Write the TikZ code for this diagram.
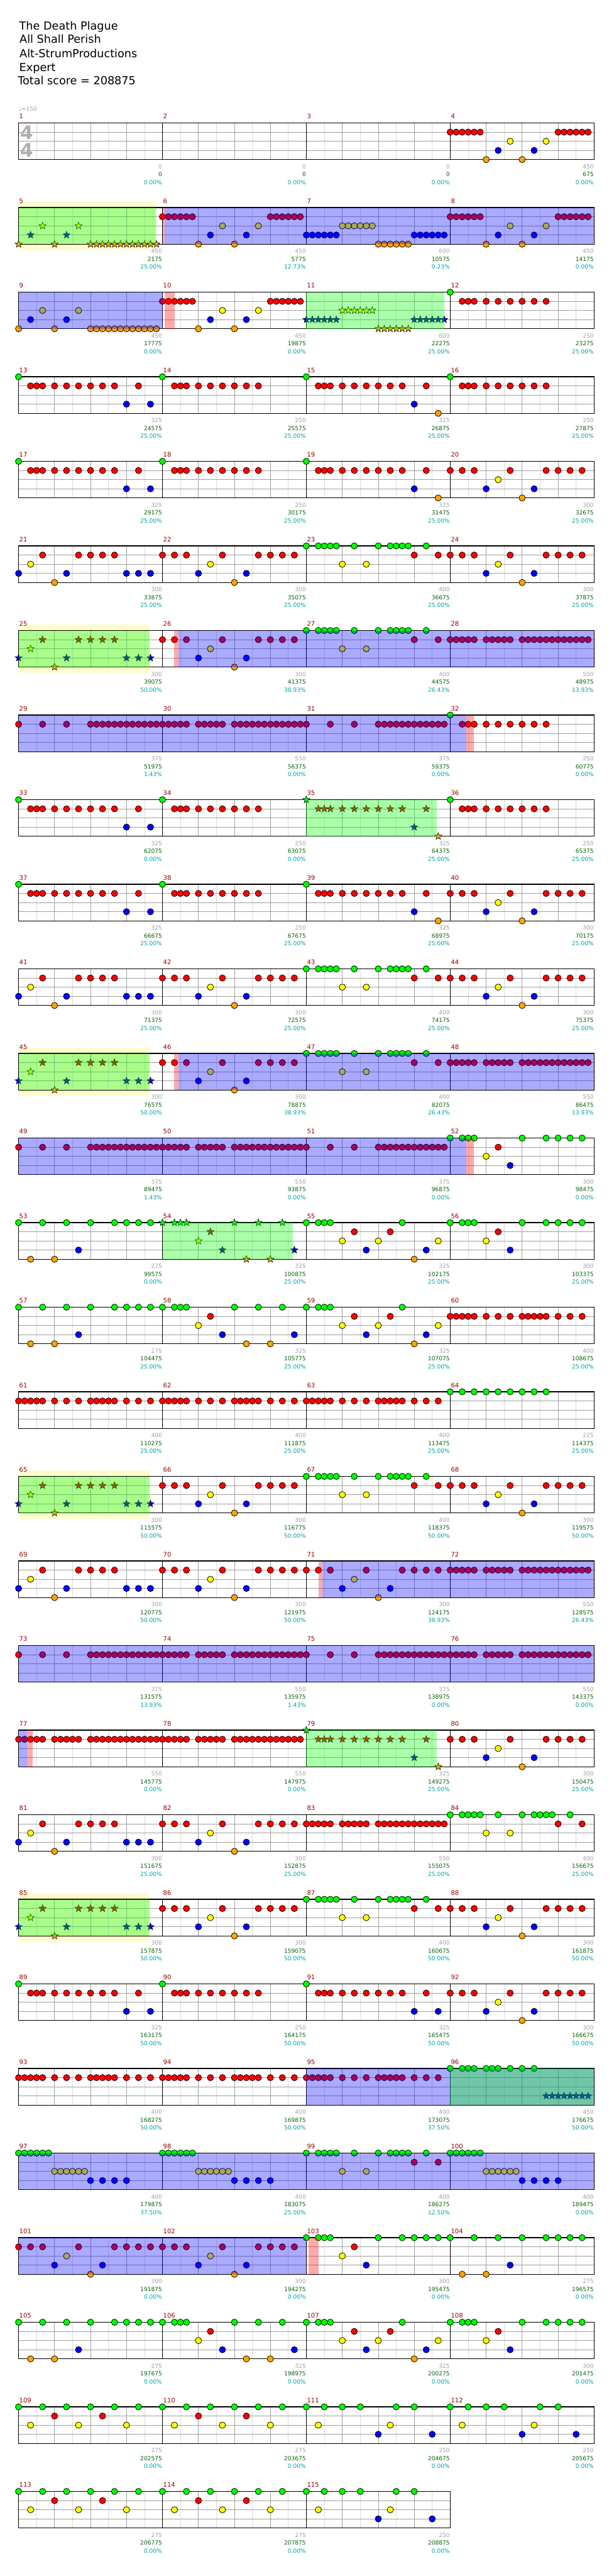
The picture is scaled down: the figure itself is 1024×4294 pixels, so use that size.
\documentclass[tikz,border=0pt]{standalone}
\usepackage{fontspec}
\setmainfont{DejaVu Sans}
\usetikzlibrary{shapes.geometric}

\definecolor{fretgreen}{RGB}{0,255,0}
\definecolor{fretred}{RGB}{255,0,0}
\definecolor{fretyellow}{RGB}{255,255,0}
\definecolor{fretblue}{RGB}{0,0,255}
\definecolor{fretorange}{RGB}{255,165,0}
\definecolor{gridgray}{RGB}{160,160,160}
\definecolor{gridlight}{RGB}{220,220,220}
\definecolor{sigray}{RGB}{175,175,175}
\definecolor{barred}{RGB}{153,0,0}
\definecolor{ptsgray}{RGB}{160,160,160}
\definecolor{totgreen}{RGB}{0,100,0}
\definecolor{pctcyan}{RGB}{0,160,160}

% origin of a bar = top left corner of its staff
\newcommand{\atbar}[3][]{%
  \pgfmathtruncatemacro{\barx}{31+240*mod(#2-1,4)}%
  \pgfmathtruncatemacro{\bary}{205+141*floor((#2-1)/4)}%
  \begin{scope}[shift={(\barx,\bary)},#1]#3\end{scope}}

% gems on the five lanes
\newcommand{\gems}[3]{\foreach \p in {#3}{\node[gemkind, fill=#1] at (\p,#2) {};}}
\newcommand{\gG}[1]{\gems{fretgreen}{0}{#1}}
\newcommand{\gR}[1]{\gems{fretred}{15.25}{#1}}
\newcommand{\gY}[1]{\gems{fretyellow}{30.5}{#1}}
\newcommand{\gB}[1]{\gems{fretblue}{45.75}{#1}}
\newcommand{\gO}[1]{\gems{fretorange}{61}{#1}}

% repeated bar patterns
\newcommand{\patRise}{\gR{0,10,...,50,180,190,...,230}\gO{60,120}\gB{80,140}\gY{100,160}}
\newcommand{\patRun}{\gB{0,10,...,50}\gY{60,70,...,110}\gO{120,130,...,170}\gB{180,190,...,230}}
\newcommand{\patSweep}{\gO{0,60,120,130,...,230}\gB{20,80}\gY{40,100}}
\newcommand{\patB}{\gG{0}\gR{20,30,40,60,80,100,120,140,160}}
\newcommand{\patA}{\patB\gR{200}\gB{180,220}}
\newcommand{\patC}{\patB\gR{200}\gB{180}\gO{220}}
\newcommand{\patD}{\gR{0,20,40,100,160,180,200,220}\gB{60,140}\gY{80}\gO{120}}
\newcommand{\patE}{\gB{0,80,180,200,220}\gY{20}\gR{40,100,120,140,160}\gO{60}}
\newcommand{\patG}{\gG{0,20,30,40,50,80,120,140,150,160,170,200}\gY{60,100}\gR{180,220}}
\newcommand{\patH}{\gR{0,10,...,40,60,70,...,100,120,130,...,230}}
\newcommand{\patK}{\gR{0,40,80,120,130,...,230}}
\newcommand{\patM}{\gG{0,20,30,40,120,160,180,200,220}\gY{60}\gR{80}\gB{100}}
\newcommand{\patN}{\gG{0,40,80,120,160,180,200,220}\gO{20,60}\gB{100}}
\newcommand{\patP}{\gG{0,20,30,40,120,160,200}\gY{60}\gR{80}\gB{100,220}\gO{140,180}}
\newcommand{\patQ}{\gG{0,20,30,40,160}\gY{60,120,220}\gR{80,140}\gB{100,200}\gO{180}}
\newcommand{\patR}{\gR{0,10,...,40,60,80,100,120,130,...,160,180,200,220}}
\newcommand{\patS}{\gG{0,20,...,160}}
\newcommand{\patT}{\gG{0,40,80,120,160,200}\gY{20,100,180}\gR{60,140}}
\newcommand{\patU}{\gG{0,30,60,90,150,180}\gB{120,210}\gY{20,140}}
\newcommand{\patW}{\gG{0,10,...,50}\gY{60,70,...,110}\gB{120,140,160,180}}

\tikzset{
  gem/.style={circle, draw=black, line width=0.8pt, minimum size=10.5pt, inner sep=0pt},
  stargem/.style={star, star points=5, star point ratio=2.4, draw=black, line width=0.6pt,
                  minimum size=12.5pt, inner sep=0pt},
  gemkind/.style={gem},
  starred/.style={gemkind/.style={stargem}},
  halfbeat/.style={draw=gridlight, line width=0.8pt},
  beat/.style={draw=gridgray, line width=0.8pt},
  barline/.style={draw=black, line width=1pt},
  staff/.style={draw=black, line width=1.2pt},
  odtint/.style={fill=blue, fill opacity=0.3333},
  sptint/.style={fill=green, fill opacity=0.3333},
  squeeze/.style={fill=red, fill opacity=0.3333},
  spband/.style={fill=yellow, fill opacity=0.2},
  barnum/.style={anchor=base west, inner sep=0pt, text=barred, font=\fontsize{10.5}{12}\selectfont},
  ptslabel/.style={anchor=base east, inner sep=0pt, text=ptsgray, font=\fontsize{9.5}{11}\selectfont},
  totlabel/.style={anchor=base east, inner sep=0pt, text=totgreen, font=\fontsize{9.5}{11}\selectfont},
  pctlabel/.style={anchor=base east, inner sep=0pt, text=pctcyan, font=\fontsize{9.5}{11}\selectfont},
  titleline/.style={anchor=base west, inner sep=0pt, font=\fontsize{18.5}{22}\selectfont},
  timesig/.style={inner sep=0pt, text=sigray, font=\fontsize{31}{31}\selectfont\bfseries}
}

\begin{document}
\begin{tikzpicture}[x=1pt, y=-1pt]
\useasboundingbox (0,0) rectangle (1024,4294);
\fill[white] (0,0) rectangle (1024,4294);

% header
\node[titleline] (song) at (32,49.3) {The Death Plague};
\node[titleline] (artist) at (32.5,72.3) {All Shall Perish};
\node[titleline] (charter) at (32.5,95.5) {Alt-StrumProductions};
\node[titleline] (level) at (32,118.5) {Expert};
\node[titleline] (total) at (29.5,141.3) {Total score = 208875};
\node[anchor=base west, inner sep=0pt, text=ptsgray, font=\fontsize{9.5}{11}\selectfont] (tempo) at (31,185.5) {♩=150};

% star power bands behind the staff
\foreach \r/\xa/\xb in {1/31/260, 6/31/250, 11/31/250, 16/31/250, 21/31/250}
  \fill[spband] (\xa,{195+141*\r}) rectangle (\xb,{276+141*\r});

% staff grid
\foreach \m in {1,...,115}{
  \atbar{\m}{
    \foreach \hx in {30,90,150,210} \draw[halfbeat] (\hx,0) -- (\hx,61);
    \foreach \qx in {60,120,180} \draw[beat] (\qx,0) -- (\qx,61);
    \foreach \ly in {15.25,30.5,45.75} \draw[beat] (0,\ly) -- (240,\ly);
    \draw[barline] (0,0) -- (0,61);
  }
}
\foreach \r in {0,...,27} \draw[staff] (31,{205+141*\r}) rectangle (991,{266+141*\r});
\draw[staff] (31,{205+141*28}) rectangle (751,{266+141*28});

% time signature
\node[timesig] (tsig top) at (44.5,220.7) {4};
\node[timesig] (tsig bot) at (44.5,250) {4};

% notes
\foreach \m in {4,6,8,10}{\atbar{\m}{\patRise}}
\atbar{7}{\patRun}
\atbar[starred]{5}{\patSweep}
\atbar{9}{\patSweep}
\atbar[starred]{11}{\patRun}
\foreach \m in {12,14,16,18,32,34,36,38,90}{\atbar{\m}{\patB}}
\foreach \m in {13,17,33,37,89,91}{\atbar{\m}{\patA}}
\foreach \m in {15,19,39}{\atbar{\m}{\patC}}
\foreach \m in {35,79}{\atbar[starred]{\m}{\patC}}
\foreach \m in {20,22,24,26,40,42,44,46,66,68,70,71,80,82,86,88,92,101,102}{\atbar{\m}{\patD}}
\foreach \m in {21,41,69,81}{\atbar{\m}{\patE}}
\foreach \m in {25,45,65,85}{\atbar[starred]{\m}{\patE}}
\foreach \m in {23,27,43,47,67,84,87,99}{\atbar{\m}{\patG}}
\foreach \m in {28,30,48,50,72,74,76,77,78,83}{\atbar{\m}{\patH}}
\foreach \m in {29,31,49,51,73,75}{\atbar{\m}{\patK}}
\foreach \m in {52,56,103,108}{\atbar{\m}{\patM}}
\foreach \m in {53,57,104,105}{\atbar{\m}{\patN}}
\atbar[starred]{54}{\patP}
\foreach \m in {58,106}{\atbar{\m}{\patP}}
\foreach \m in {55,59,107}{\atbar{\m}{\patQ}}
\foreach \m in {60,61,62,63,93,94,95}{\atbar{\m}{\patR}}
\atbar{64}{\patS}
\foreach \m in {97,98,100}{\atbar{\m}{\patW}}
\atbar{96}{\gG{0,20,30,40,60,70,80,100,120,140}}
\atbar[starred]{96}{\gB{160,170,...,230}}
\foreach \m in {109,110,113,114}{\atbar{\m}{\patT}}
\foreach \m in {111,112,115}{\atbar{\m}{\patU}}

% overdrive, star power and squeeze tints over the staff
\foreach \r/\xa/\xb in {1/275/991, 2/31/271, 6/297.6/991, 7/31/778, 11/297.6/991, 12/31/778,
  17/538/991, 18/31/991, 19/31/45, 23/511/991, 24/31/991, 25/31/511}
  \fill[odtint] (\xa,{205+141*\r}) rectangle (\xb,{266+141*\r});
\foreach \r/\xa/\xb in {1/31/260, 2/511/741, 6/31/250, 8/511/729, 11/31/250, 13/271/489,
  16/31/250, 19/511/729, 21/31/250, 23/751/991}
  \fill[sptint] (\xa,{205+141*\r}) rectangle (\xb,{266+141*\r});
\foreach \r/\xa/\xb in {1/271/275, 2/275/291, 6/290.5/297.6, 7/778/790.5, 11/290.5/297.6, 12/778/790.5,
  17/531/538, 19/45/55, 25/515/531}
  \fill[squeeze] (\xa,{205+141*\r}) rectangle (\xb,{266+141*\r});

% bar numbers
\foreach \m in {1,...,115}{\atbar{\m}{\node[barnum] at (1,-7) {\m};}}

% bar scores
\foreach \m/\pts/\tot/\pct in {1/0/0/0.00, 2/0/0/0.00, 3/0/0/0.00, 4/450/675/0.00,
  5/450/2175/25.00, 6/450/5775/12.73, 7/600/10575/0.23, 8/450/14175/0.00,
  9/450/17775/0.00, 10/450/19875/0.00, 11/600/22275/25.00, 12/250/23275/25.00,
  13/325/24575/25.00, 14/250/25575/25.00, 15/325/26875/25.00, 16/250/27875/25.00,
  17/325/29175/25.00, 18/250/30175/25.00, 19/325/31475/25.00, 20/300/32675/25.00,
  21/300/33875/25.00, 22/300/35075/25.00, 23/400/36675/25.00, 24/300/37875/25.00,
  25/300/39075/50.00, 26/300/41375/38.93, 27/400/44575/26.43, 28/550/48975/13.93,
  29/375/51975/1.43, 30/550/56375/0.00, 31/375/59375/0.00, 32/250/60775/0.00,
  33/325/62075/0.00, 34/250/63075/0.00, 35/325/64375/25.00, 36/250/65375/25.00,
  37/325/66675/25.00, 38/250/67675/25.00, 39/325/68975/25.00, 40/300/70175/25.00,
  41/300/71375/25.00, 42/300/72575/25.00, 43/400/74175/25.00, 44/300/75375/25.00,
  45/300/76575/50.00, 46/300/78875/38.93, 47/400/82075/26.43, 48/550/86475/13.93,
  49/375/89475/1.43, 50/550/93875/0.00, 51/375/96875/0.00, 52/300/98475/0.00,
  53/275/99575/0.00, 54/325/100875/25.00, 55/325/102175/25.00, 56/300/103375/25.00,
  57/275/104475/25.00, 58/325/105775/25.00, 59/325/107075/25.00, 60/400/108675/25.00,
  61/400/110275/25.00, 62/400/111875/25.00, 63/400/113475/25.00, 64/225/114375/25.00,
  65/300/115575/50.00, 66/300/116775/50.00, 67/400/118375/50.00, 68/300/119575/50.00,
  69/300/120775/50.00, 70/300/121975/50.00, 71/300/124175/38.93, 72/550/128575/26.43,
  73/375/131575/13.93, 74/550/135975/1.43, 75/375/138975/0.00, 76/550/143375/0.00,
  77/550/145775/0.00, 78/550/147975/0.00, 79/325/149275/25.00, 80/300/150475/25.00,
  81/300/151675/25.00, 82/300/152875/25.00, 83/550/155075/25.00, 84/400/156675/25.00,
  85/300/157875/50.00, 86/300/159075/50.00, 87/400/160675/50.00, 88/300/161875/50.00,
  89/325/163175/50.00, 90/250/164175/50.00, 91/325/165475/50.00, 92/300/166675/50.00,
  93/400/168275/50.00, 94/400/169875/50.00, 95/400/173075/37.50, 96/450/176675/50.00,
  97/400/179875/37.50, 98/400/183075/25.00, 99/400/186275/12.50, 100/400/189475/0.00,
  101/300/191875/0.00, 102/300/194275/0.00, 103/300/195475/0.00, 104/275/196575/0.00,
  105/275/197675/0.00, 106/325/198975/0.00, 107/325/200275/0.00, 108/300/201475/0.00,
  109/275/202575/0.00, 110/275/203675/0.00, 111/250/204675/0.00, 112/250/205675/0.00,
  113/275/206775/0.00, 114/275/207875/0.00, 115/250/208875/0.00}{
  \atbar{\m}{
    \node[ptslabel] at (239.5,76) {\pts};
    \node[totlabel] at (239.5,89.3) {\tot};
    \node[pctlabel] at (239.5,102.5) {\pct\%};
  }
}
\end{tikzpicture}
\end{document}
